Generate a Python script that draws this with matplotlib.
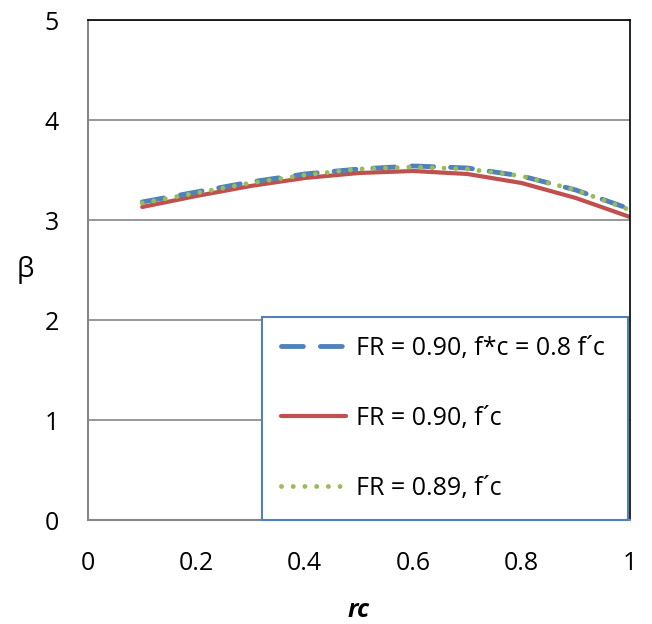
import matplotlib.pyplot as plt

rc = [0.1, 0.2, 0.3, 0.4, 0.5, 0.6, 0.7, 0.8, 0.9, 1.0]
beta_fr090_fstar = [3.18, 3.28, 3.38, 3.46, 3.51, 3.54, 3.52, 3.44, 3.30, 3.11]
beta_fr090 = [3.13, 3.24, 3.34, 3.42, 3.47, 3.49, 3.46, 3.37, 3.22, 3.03]
beta_fr089 = [3.17, 3.27, 3.37, 3.45, 3.51, 3.53, 3.51, 3.44, 3.30, 3.10]

labels = ["FR = 0.90, f*c = 0.8 f\u00b4c", "FR = 0.90, f\u00b4c", "FR = 0.89, f\u00b4c"]
x_ticks = [0, 0.2, 0.4, 0.6, 0.8, 1]
x_ticklabels = ["0", "0.2", "0.4", "0.6", "0.8", "1"]
y_ticks = [0, 1, 2, 3, 4, 5]

plt.rcParams["font.family"] = ["Open Sans", "DejaVu Sans"]

fig = plt.figure(figsize=(6.52, 6.24), dpi=100)
ax = fig.add_axes([88 / 652, 104 / 624, 542 / 652, 500 / 624])

ax.plot(rc, beta_fr090_fstar, color="#4F81BD", lw=3.5, dashes=(4.5, 3.5),
        dash_capstyle="round", label=labels[0], zorder=3)
ax.plot(rc, beta_fr090, color="#C0504D", lw=3.0, solid_capstyle="round",
        label=labels[1], zorder=2)
ax.plot(rc, beta_fr089, color="#9BBB59", lw=3.5, dashes=(0.01, 2.4),
        dash_capstyle="round", label=labels[2], zorder=4)

ax.set_xlim(0, 1)
ax.set_ylim(0, 5)
ax.set_xticks(x_ticks)
ax.set_xticklabels(x_ticklabels)
ax.set_yticks(y_ticks)
ax.tick_params(length=0, labelsize=18)
ax.tick_params(axis="x", pad=22)
ax.tick_params(axis="y", pad=21)
ax.yaxis.grid(True, color="#868686", lw=1.2)
ax.set_axisbelow(True)

for side in ["left", "bottom"]:
    ax.spines[side].set_color("#868686")
    ax.spines[side].set_linewidth(1.5)
for side in ["top", "right"]:
    ax.spines[side].set_color("black")
    ax.spines[side].set_linewidth(1.2)

ax.set_xlabel("rc", fontsize=18, fontstyle="italic", fontweight="bold", labelpad=16)
ax.set_ylabel("\u03b2", fontsize=20, rotation=0, labelpad=14, va="center")

leg = ax.legend(loc="lower left", bbox_to_anchor=(0.321, 0.0, 0.675, 0.408),
                mode="expand", fontsize=18, frameon=True, fancybox=False,
                handlelength=2.6, handletextpad=0.4, labelspacing=1.8,
                borderpad=0.76, borderaxespad=0)
leg.get_frame().set_edgecolor("#4F81BD")
leg.get_frame().set_linewidth(1.5)
leg.get_frame().set_alpha(1)

fig.savefig("out.png", dpi=100)
